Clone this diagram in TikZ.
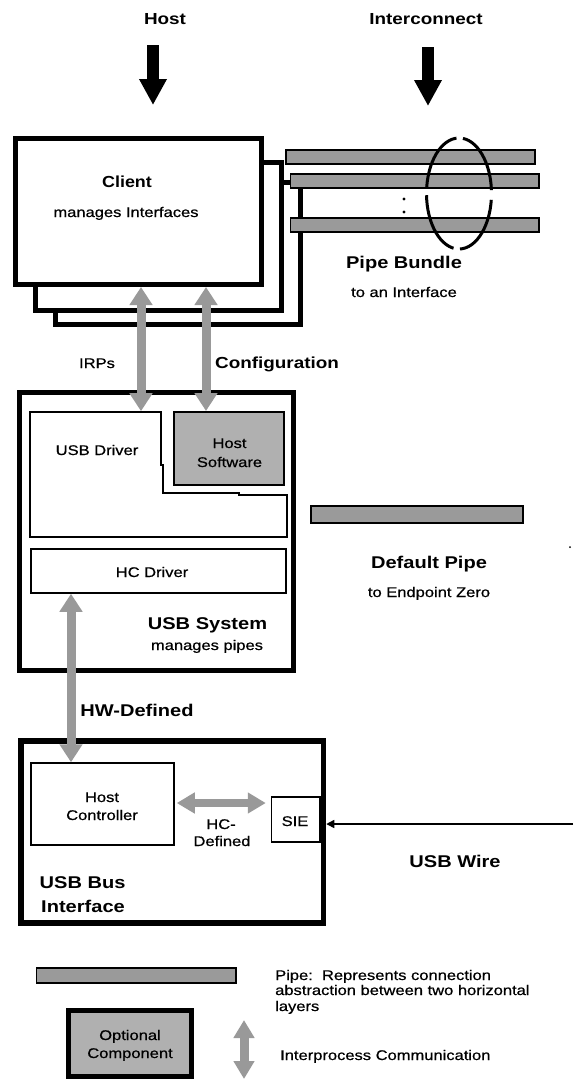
\documentclass[tikz,border=0pt]{standalone}
\usepackage{fontspec}
\setmainfont{Liberation Sans}
\newfontfamily\lblfont{Liberation Sans}[FakeBold=0.6]
\usetikzlibrary{arrows.meta,fit,shapes.geometric}

\definecolor{pipegray}{HTML}{9A9A9A}
\definecolor{optgray}{HTML}{B0B0B0}
\definecolor{ipcgray}{HTML}{999999}

% slightly widened lettering
\newcommand\widetxt[1]{\scalebox{1.18}[1]{#1}}

\tikzset{
  heavybox/.style={draw=black, line width=5pt, fill=white, inner sep=0pt},
  thinbox/.style={draw=black, line width=1.5pt, inner sep=0pt},
  pipebar/.style={draw=black, line width=1.4pt, fill=pipegray, inner sep=0pt},
  optbox/.style={draw=black, line width=2pt, fill=optgray, inner sep=0pt},
  lbl/.style={inner sep=0pt, text height=10pt, text depth=0pt,
              font=\lblfont\fontsize{14}{16}\selectfont},
  biglbl/.style={inner sep=0pt, text height=12.2pt, text depth=0pt,
              font=\fontsize{17}{19}\selectfont\bfseries},
  midlbl/.style={biglbl, text height=11.5pt, font=\fontsize{16}{18}\selectfont\bfseries},
  ipc/.style={draw=ipcgray, line width=9pt,
              {Triangle[width=22pt,length=18pt]}-{Triangle[width=22pt,length=18pt]}},
  downarrow/.style={draw=black, line width=12pt, -{Triangle[width=26pt,length=26pt]}},
  wire/.style={draw=black, line width=1.4pt, -{Triangle[width=8pt,length=8pt]}},
}

\begin{document}
\begin{tikzpicture}[x=1pt,y=-1pt]
\useasboundingbox (0,0) rectangle (573,1079);

% ---------- top layer labels and arrows ----------
\node[midlbl] (hostlbl) at (165,19) {\widetxt{Host}};
\node[midlbl] (iclbl) at (426,19) {\widetxt{Interconnect}};
\coordinate (hostA) at (153,45);  \coordinate (hostB) at (153,105);
\coordinate (icA) at (428,47);    \coordinate (icB) at (428,106);
\draw[downarrow] (hostA) -- (hostB);
\draw[downarrow] (icA) -- (icB);

% ---------- stacked client boxes ----------
\node[heavybox, fit={(55,182.5)(300.5,324.5)}] (client3) {};
\node[heavybox, fit={(35.5,162)(281.5,310.5)}] (client2) {};
\node[heavybox, fit={(15.5,138)(261,284.5)}] (client) {};
\node[midlbl] at (127,182) {\scalebox{1.12}[1]{Client}};
\node[lbl] at (126,212) {\widetxt{manages Interfaces}};

% ---------- pipe bundle ----------
\node[pipebar, fit={(286,150)(535,164)}] (pipeA) {};
\node[pipebar, fit={(290.5,174)(539,188)}] (pipeB) {};
\node[pipebar, fit={(290.5,218)(539,232)}] (pipeC) {};
\fill (404,199) circle (1.6pt) (404,212) circle (1.6pt);
\node[ellipse, draw=black, line width=3pt, dash pattern=on 63pt off 6.5pt, dash phase=66.2pt,
      minimum width=65pt, minimum height=111pt, inner sep=0pt] (bundle) at (459,193.5) {};
\node[biglbl] at (404,262) {\widetxt{Pipe Bundle}};
\node[lbl] at (404,292) {\widetxt{to an Interface}};

% ---------- USB system ----------
\node[heavybox, fit={(19,392.5)(293,670.5)}] (usbsys) {};
\draw[line width=1.5pt] (30,412) -- (161,412) -- (161,465) -- (163,465) -- (163,493)
   -- (239,493) -- (239,495) -- (287,495) -- (287,537) -- (30,537) -- cycle;
\coordinate (drvtop) at (141,411.2);
\node[lbl] at (97,450) {\widetxt{USB Driver}};
\node[optbox, fit={(173.5,412)(284,485)}] (hostsw) {};
\node[lbl] at (229.5,443) {\widetxt{Host}};
\node[lbl] at (229.5,462) {\widetxt{Software}};
\node[thinbox, fit={(31,549)(286,593)}] (hcd) {};
\node[lbl] at (152,572) {\widetxt{HC Driver}};
\node[biglbl] at (207.5,623) {\widetxt{USB System}};
\node[lbl] at (207,645) {\widetxt{manages pipes}};

% client <-> USB system
\coordinate (irpx) at (141,0);
\coordinate (cfgx) at (206,0);
\draw[ipc] (irpx |- client.south) -- (drvtop);
\draw[ipc] (cfgx |- client.south) -- (cfgx |- hostsw.north);
\node[lbl] at (97,363) {\widetxt{IRPs}};
\node[midlbl] at (277,363) {\widetxt{Configuration}};

% ---------- default pipe ----------
\node[pipebar, fit={(311,506)(523,523)}] (defpipe) {};
\node[biglbl] at (429,562) {\widetxt{Default Pipe}};
\node[lbl] at (429,592) {\widetxt{to Endpoint Zero}};
\fill (570,547) circle (1pt);

% ---------- USB bus interface ----------
\node[heavybox, line width=5.5pt, fit={(21,741)(323.5,923)}] (busif) {};
\node[thinbox, fit={(31,763)(174,845)}] (hc) {};
\node[lbl] at (102,797) {\widetxt{Host}};
\node[lbl] at (102,815) {\widetxt{Controller}};
\node[thinbox, fit={(271.5,797)(320,842)}] (sie) {};
\node[lbl] at (295,821) {\widetxt{SIE}};
\coordinate (hwx) at (71,0);
\draw[ipc] (hwx |- hcd.south) -- (hwx |- hc.north);
\node[biglbl] at (137,710) {\widetxt{HW-Defined}};
\coordinate (hcy) at (0,803);
\draw[ipc, line width=8pt, {Triangle[width=20pt,length=18pt]}-{Triangle[width=20pt,length=18pt]},
      shorten <=2pt, shorten >=5pt] (hc.east |- hcy) -- (sie.west |- hcy);
\node[lbl] at (221,824) {\widetxt{HC-}};
\node[lbl] at (222,841) {\widetxt{Defined}};
\coordinate (wireend) at (573,824);
\draw[wire] (wireend) -- (busif.east |- wireend);
\node[biglbl] at (455,861) {\widetxt{USB Wire}};
\node[biglbl, anchor=west] at (39.5,882) {\widetxt{USB Bus}};
\node[biglbl, anchor=west] at (41,906) {\widetxt{Interface}};

% ---------- legend ----------
\node[pipebar, fit={(36.5,968)(236,983)}] (legpipe) {};
\node[lbl, anchor=west] at (275,975) {\widetxt{Pipe:\ \ Represents connection}};
\node[lbl, anchor=west] at (275,990) {\widetxt{abstraction between two horizontal}};
\node[lbl, anchor=west] at (275,1006) {\widetxt{layers}};
\node[heavybox, fill=optgray, fit={(68,1010)(191,1076)}] (legopt) {};
\node[lbl] at (130,1035) {\widetxt{Optional}};
\node[lbl] at (130,1053) {\widetxt{Component}};
\coordinate (legA) at (244,1020);
\coordinate (legB) at (244,1079);
\draw[ipc, {Triangle[width=20pt,length=18pt]}-{Triangle[width=20pt,length=18pt]}] (legA) -- (legB);
\node[lbl, anchor=west] at (280,1055) {\widetxt{Interprocess Communication}};
\end{tikzpicture}
\end{document}
